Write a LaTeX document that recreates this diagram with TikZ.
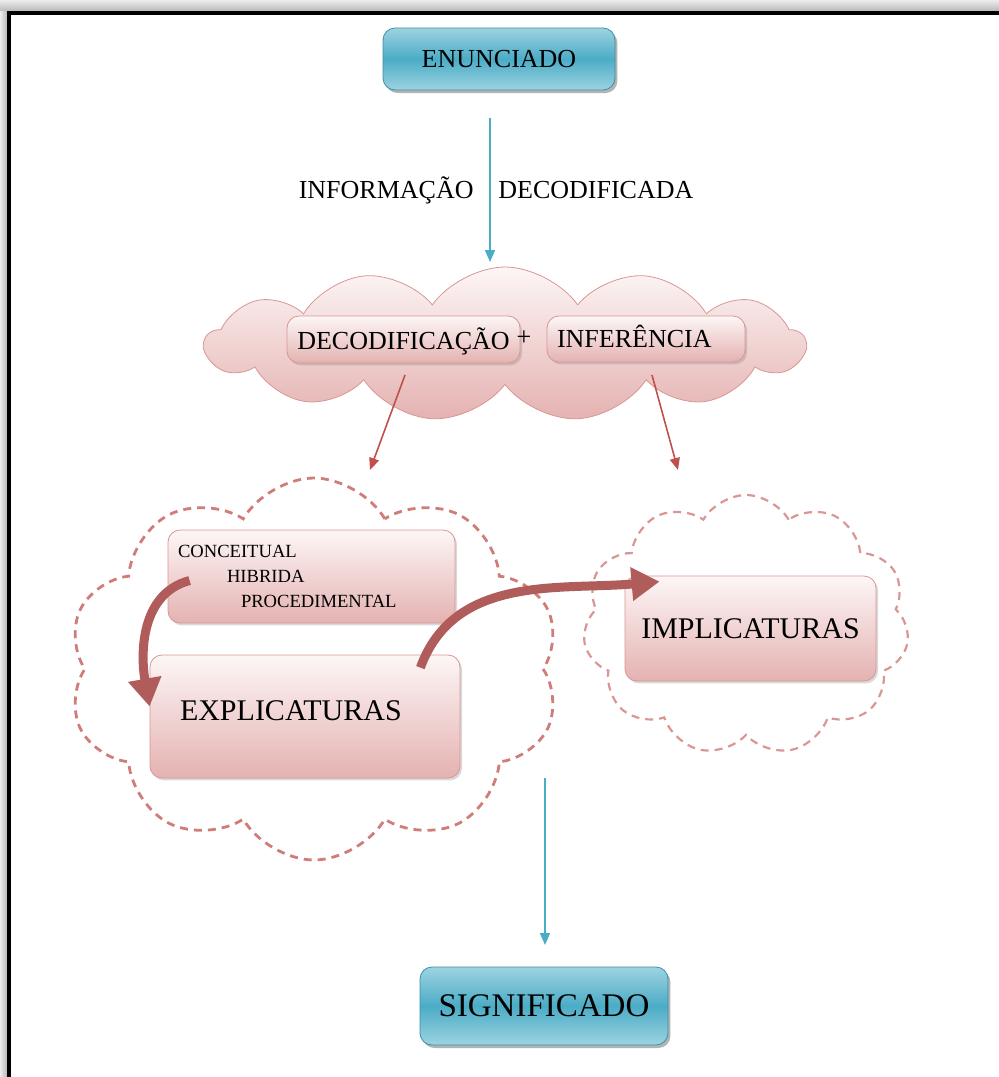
\documentclass[tikz,border=0pt]{standalone}
\usepackage{fontspec}
\setmainfont{Liberation Serif}
\usepackage{tikz}
\usetikzlibrary{shapes,arrows.meta,shadows}

\definecolor{tealMid}{HTML}{4BACC6}
\definecolor{tealLight}{HTML}{9DD3E1}
\definecolor{tealDark}{HTML}{3A8FA8}
\definecolor{redLine}{HTML}{C0504D}
\definecolor{pinkLight}{HTML}{FDF6F6}
\definecolor{pinkDark}{HTML}{E4B2B1}
\definecolor{pinkEdge}{HTML}{D99694}
\definecolor{bigRed}{HTML}{B05C5A}

\begin{document}
\begin{tikzpicture}[x=0.5pt, y=0.5pt,
  tealbox/.style = {shape=rectangle, rounded corners=6pt, draw=tealDark,
    top color=tealLight, bottom color=tealLight, middle color=tealMid,
    drop shadow={shadow xshift=1.2pt, shadow yshift=-1.5pt, opacity=0.6}},
  pinkbox/.style = {shape=rectangle, rounded corners=6pt, draw=pinkEdge,
    top color=pinkLight, bottom color=pinkDark,
    drop shadow={shadow xshift=1pt, shadow yshift=-1.2pt, opacity=0.3}},
  pinkcloud/.style = {cloud, cloud ignores aspect, draw=pinkEdge,
    top color=pinkLight, bottom color=pinkDark},
  dashcloud/.style = {cloud, cloud ignores aspect, draw=redLine!75,
    dash pattern=on 4pt off 3pt, line width=1.4pt},
  tealarrow/.style = {draw=tealMid, line width=0.8pt, -{Triangle[length=6pt,width=5pt]}},
  redarrow/.style = {draw=redLine, line width=0.8pt, -{Triangle[length=6pt,width=5pt]}},
  bigarrow/.style = {draw=bigRed, line width=4.5pt, -{Triangle[length=14pt,width=16pt]}}]

  \useasboundingbox (0,0) rectangle (999,-1077);
  \shade[top color=gray!15, bottom color=gray!55] (0,0) rectangle (999,-11);
  \shade[left color=gray!15, right color=gray!55] (0,-11) rectangle (7,-1077);
  \draw[line width=2pt] (9,-1077) -- (9,-13) -- (999,-13);

  \node[tealbox, minimum width=116pt, minimum height=31pt, font=\fontsize{13}{15}\selectfont]
    (enun) at (499,-59) {ENUNCIADO};

  \coordinate (a1s) at (490,-118);
  \coordinate (a1e) at (490,-262);
  \draw[tealarrow] (a1s) -- (a1e);
  \node[anchor=base east, inner sep=0pt, font=\fontsize{13}{15}\selectfont]
    (info) at (474,-198) {INFORMAÇÃO};
  \node[anchor=base west, inner sep=0pt, font=\fontsize{13}{15}\selectfont]
    (decod) at (498,-198) {DECODIFICADA};

  \node[pinkcloud, cloud puffs=13, cloud puff arc=110, minimum width=300pt, minimum height=77pt]
    (cloudtop) at (505,-344) {};
  \node[pinkbox, minimum width=116.5pt, minimum height=23.5pt, text depth=1pt,
    font=\fontsize{13}{15}\selectfont] (deco) at (403.5,-339.5) {DECODIFICAÇÃO};
  \node[font=\fontsize{13}{15}\selectfont, inner sep=0pt] (plus) at (524,-338) {+};
  \node[pinkbox, text width=89pt, inner xsep=5pt, align=left, minimum height=23pt,
    text height=9pt, text depth=1pt, font=\fontsize{13}{15}\selectfont]
    (infer) at (646,-339) {INFERÊNCIA};

  \coordinate (r1s) at (405,-375);
  \coordinate (r1e) at (370,-470);
  \coordinate (r2s) at (652,-375);
  \coordinate (r2e) at (678,-470);
  \draw[redarrow] (r1s) -- (r1e);
  \draw[redarrow] (r2s) -- (r2e);

  \node[dashcloud, cloud puffs=10, cloud puff arc=120, minimum width=246pt, minimum height=191pt]
    (cloudleft) at (314,-669) {};
  \node[dashcloud, draw=pinkEdge, line width=1.1pt, cloud puffs=11, cloud puff arc=120,
    minimum width=163pt, minimum height=130pt] (cloudright) at (746,-625) {};

  \node[pinkbox, text width=133.5pt, inner xsep=5pt, align=left, minimum height=46.5pt,
    font=\fontsize{9.3}{12.3}\selectfont] (concept) at (311.5,-576.5)
    {CONCEITUAL\\ \hspace*{24.5pt}HIBRIDA\\ \hspace*{31.5pt}PROCEDIMENTAL};
  \node[pinkbox, text width=125pt, inner xsep=15pt, align=left, minimum height=61.5pt,
    text depth=6pt, font=\fontsize{15}{17}\selectfont]
    (expl) at (305,-716.5) {EXPLICATURAS};
  \node[pinkbox, minimum width=125.5pt, minimum height=52.5pt, font=\fontsize{15}{17}\selectfont]
    (impl) at (750.5,-628.5) {IMPLICATURAS};

  \draw[bigarrow] ([xshift=11pt,yshift=-2pt]concept.west) to[out=195, in=100]
    ([yshift=5pt]expl.west);
  \draw[bigarrow] ([xshift=-20pt,yshift=-6.5pt]expl.north east) to[out=70, in=185]
    ([xshift=17.5pt,yshift=-3pt]impl.north west);

  \coordinate (a2s) at (545,-778);
  \coordinate (a2e) at (545,-945);
  \draw[tealarrow] (a2s) -- (a2e);

  \node[tealbox, minimum width=124pt, minimum height=39pt, font=\fontsize{16.5}{18}\selectfont]
    (sig) at (544,-1006) {SIGNIFICADO};
\end{tikzpicture}
\end{document}
